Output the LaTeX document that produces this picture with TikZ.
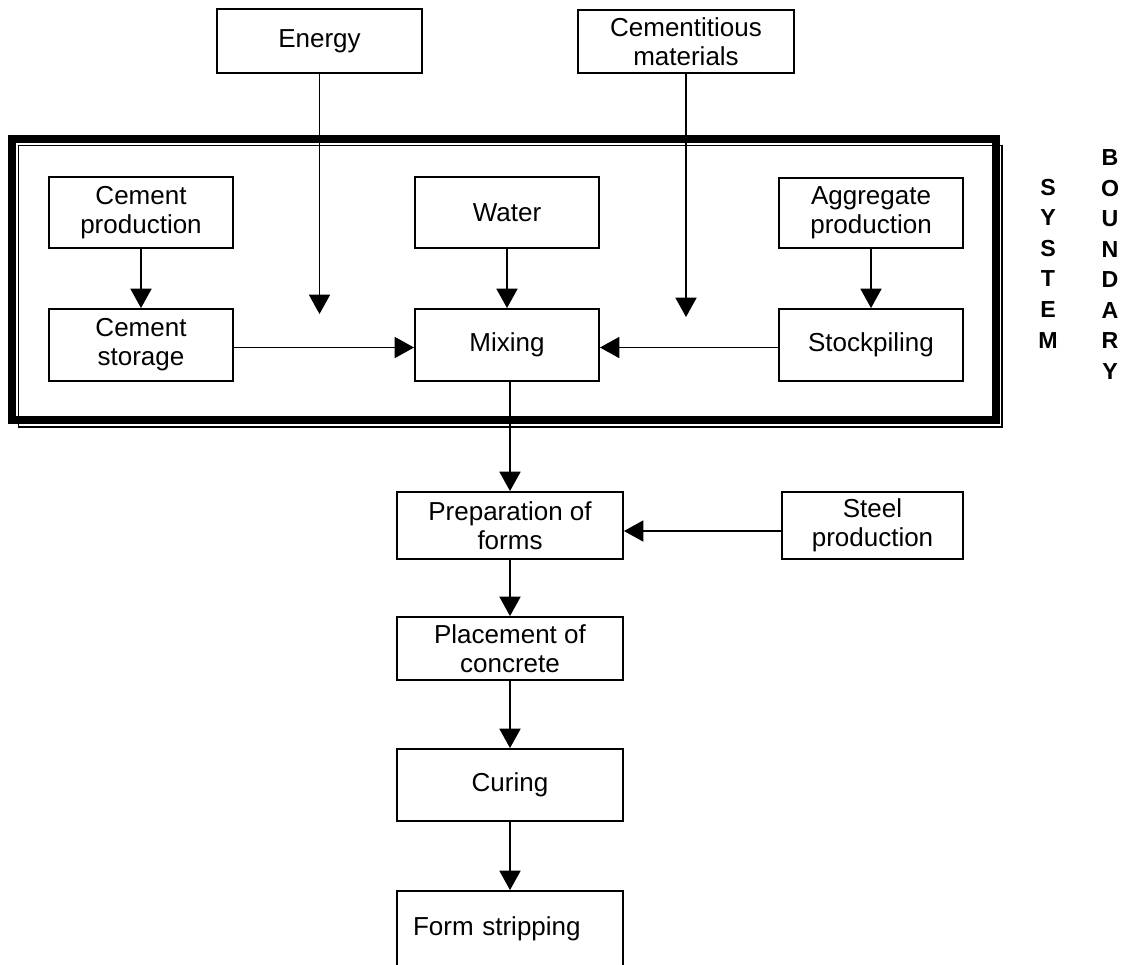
\documentclass[tikz,border=0pt]{standalone}
\usepackage{fontspec}
\setmainfont{Liberation Sans}
\usetikzlibrary{arrows.meta}
\begin{document}
\begin{tikzpicture}[x=0.02cm,y=-0.02cm,
  box/.style={draw, line width=1.1pt, inner sep=0pt, align=center,
    font=\fontsize{14.8}{16.5}\selectfont},
  bw/.style={minimum width=#1*0.02cm},
  bh/.style={minimum height=#1*0.02cm},
  conn/.style={line width=0.7pt, -{Triangle[length=11pt,width=12pt]}},
  sb/.style={font=\fontsize{13.2}{17.4}\selectfont\bfseries, align=center, inner sep=0pt}]
\useasboundingbox (0,0) rectangle (1121,964);
\clip (0,0) rectangle (1121,964);

% system boundary frame
\draw[line width=4.54pt] (12,139) rectangle (996,420);
\draw[line width=0.7pt] (18.5,145.5) rectangle (1002,427);

% nodes
\node[box,bw=205,bh=64] (energy) at (319.5,41) {Energy};
\node[box,bw=216,bh=63] (cem) at (686,41.5) {Cementitious\\materials};
\node[box,bw=184,bh=71] (cprod) at (141,212.5) {Cement\\production};
\node[box,bw=184,bh=71] (water) at (507,212.5) {Water};
\node[box,bw=184,bh=70] (agg) at (871,213) {Aggregate\\production};
\node[box,bw=184,bh=72] (cstore) at (141,345) {Cement\\storage};
\node[box,bw=184,bh=72] (mix) at (507,345) {Mixing};
\node[box,bw=184,bh=72] (stock) at (871,345) {Stockpiling};
\node[box,bw=226,bh=67] (prep) at (510,525.5) {Preparation of\\forms};
\node[box,bw=181,bh=67] (steel) at (872.5,525.5) {Steel\\production};
\node[box,bw=226,bh=63] (place) at (510,648.5) {Placement of\\concrete};
\node[box,bw=226,bh=72] (curing) at (510,785) {Curing};
\node[box,bh=76,text width=3.88cm,inner xsep=0.32cm,align=left] (fs) at (510,929) {Form stripping};

\node[sb] (sys) at (1048,263.5) {S\\Y\\S\\T\\E\\M};
\node[sb] (bnd) at (1110,264.5) {B\\O\\U\\N\\D\\A\\R\\Y};

\coordinate (etip) at (319.5,314);
\coordinate (ctip) at (686,317);

% connectors
\draw[conn] (energy) -- (etip);
\draw[conn] (cem) -- (ctip);
\draw[conn] (cprod) -- (cstore);
\draw[conn] (water) -- (mix);
\draw[conn] (agg) -- (stock);
\draw[conn] ([yshift=-0.05cm]cstore.east) -- ([yshift=-0.05cm]mix.west);
\draw[conn] ([yshift=-0.05cm]stock.west) -- ([yshift=-0.05cm]mix.east);
\draw[conn] (mix.south -| prep) -- (prep);
\draw[conn] ([yshift=-0.11cm]steel.west) -- ([yshift=-0.11cm]prep.east);
\draw[conn] (prep) -- (place);
\draw[conn] (place) -- (curing);
\draw[conn] (curing) -- (fs);
\end{tikzpicture}
\end{document}
